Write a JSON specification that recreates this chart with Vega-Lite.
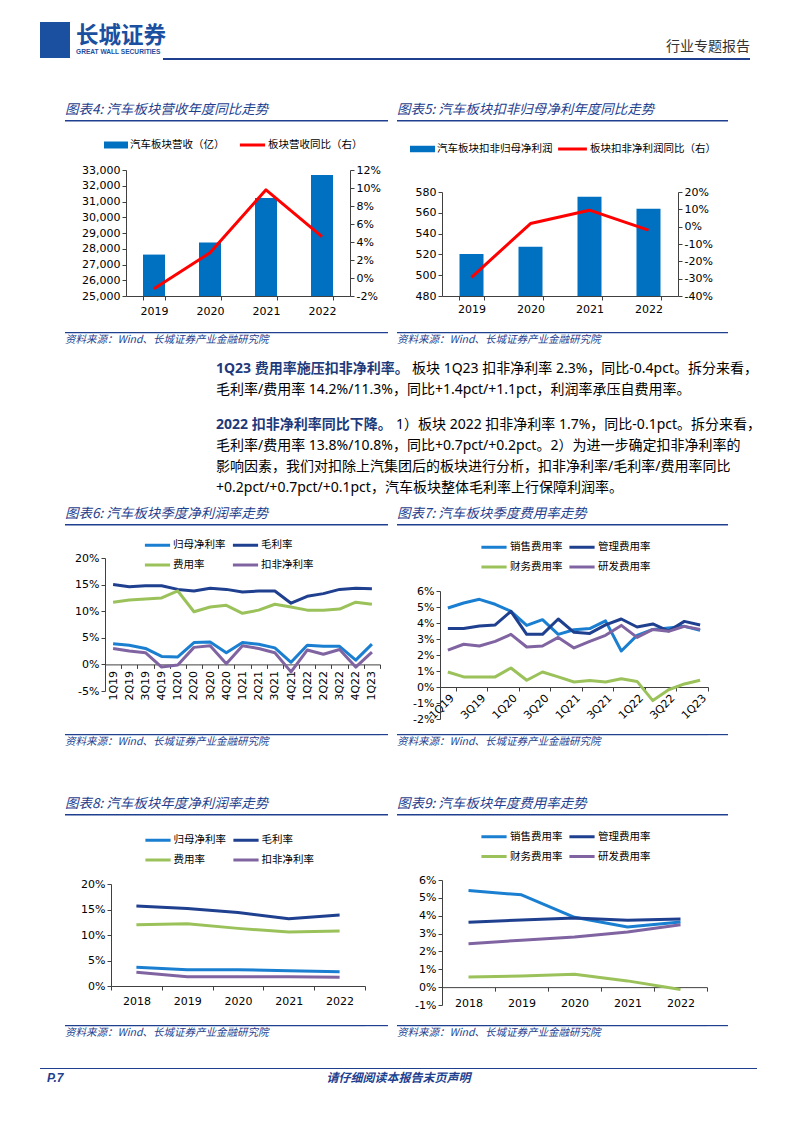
{
"$schema":"https://vega.github.io/schema/vega-lite/v6.json",
"background":"white","padding":0,"spacing":0,"bounds":"full",
"resolve":{"scale":{"color":"independent","fill":"independent","stroke":"independent"}},
"config":{
 "view":{"stroke":null},
 "font":"Noto Sans CJK SC",
 "axis":{"grid":false,"domainColor":"#404040","tickColor":"#404040","labelColor":"#000000","labelFont":"DejaVu Sans","labelFontSize":11,"tickSize":4,"labelPadding":2},
 "legend":{"labelFont":"Noto Sans CJK SC","labelFontSize":10.5,"labelColor":"#000000","padding":0},
 "title":{"anchor":"start","font":"Noto Sans CJK SC","fontSize":13.5,"fontStyle":"italic","fontWeight":"normal","color":"#1f3f8f","offset":4}
},
"datasets":{
 "f4":[{"year":"2019","rev":27630,"yoy":-1.2},{"year":"2020","rev":28390,"yoy":2.8},{"year":"2021","rev":31230,"yoy":9.8},{"year":"2022","rev":32680,"yoy":4.6}],
 "f5":[{"year":"2019","np":520.5,"yoy":-29.2},{"year":"2020","np":527.3,"yoy":1.8},{"year":"2021","np":575.5,"yoy":9.5},{"year":"2022","np":563.9,"yoy":-2.0}],
 "f6":[
  {"q":"1Q19","s":"归母净利率","v":3.9},{"q":"2Q19","s":"归母净利率","v":3.6},{"q":"3Q19","s":"归母净利率","v":3.0},{"q":"4Q19","s":"归母净利率","v":1.5},{"q":"1Q20","s":"归母净利率","v":1.4},{"q":"2Q20","s":"归母净利率","v":4.1},{"q":"3Q20","s":"归母净利率","v":4.2},{"q":"4Q20","s":"归母净利率","v":2.2},{"q":"1Q21","s":"归母净利率","v":4.1},{"q":"2Q21","s":"归母净利率","v":3.8},{"q":"3Q21","s":"归母净利率","v":3.1},{"q":"4Q21","s":"归母净利率","v":0.4},{"q":"1Q22","s":"归母净利率","v":3.6},{"q":"2Q22","s":"归母净利率","v":3.4},{"q":"3Q22","s":"归母净利率","v":3.4},{"q":"4Q22","s":"归母净利率","v":0.8},{"q":"1Q23","s":"归母净利率","v":3.8},
  {"q":"1Q19","s":"毛利率","v":15.0},{"q":"2Q19","s":"毛利率","v":14.6},{"q":"3Q19","s":"毛利率","v":14.8},{"q":"4Q19","s":"毛利率","v":14.8},{"q":"1Q20","s":"毛利率","v":14.1},{"q":"2Q20","s":"毛利率","v":13.8},{"q":"3Q20","s":"毛利率","v":14.3},{"q":"4Q20","s":"毛利率","v":14.1},{"q":"1Q21","s":"毛利率","v":13.6},{"q":"2Q21","s":"毛利率","v":13.8},{"q":"3Q21","s":"毛利率","v":13.8},{"q":"4Q21","s":"毛利率","v":11.5},{"q":"1Q22","s":"毛利率","v":12.8},{"q":"2Q22","s":"毛利率","v":13.3},{"q":"3Q22","s":"毛利率","v":14.1},{"q":"4Q22","s":"毛利率","v":14.3},{"q":"1Q23","s":"毛利率","v":14.2},
  {"q":"1Q19","s":"费用率","v":11.7},{"q":"2Q19","s":"费用率","v":12.1},{"q":"3Q19","s":"费用率","v":12.3},{"q":"4Q19","s":"费用率","v":12.5},{"q":"1Q20","s":"费用率","v":13.8},{"q":"2Q20","s":"费用率","v":9.9},{"q":"3Q20","s":"费用率","v":10.8},{"q":"4Q20","s":"费用率","v":11.1},{"q":"1Q21","s":"费用率","v":9.6},{"q":"2Q21","s":"费用率","v":10.2},{"q":"3Q21","s":"费用率","v":11.3},{"q":"4Q21","s":"费用率","v":10.8},{"q":"1Q22","s":"费用率","v":10.2},{"q":"2Q22","s":"费用率","v":10.2},{"q":"3Q22","s":"费用率","v":10.4},{"q":"4Q22","s":"费用率","v":11.7},{"q":"1Q23","s":"费用率","v":11.3},
  {"q":"1Q19","s":"扣非净利率","v":3.0},{"q":"2Q19","s":"扣非净利率","v":2.5},{"q":"3Q19","s":"扣非净利率","v":2.2},{"q":"4Q19","s":"扣非净利率","v":-0.5},{"q":"1Q20","s":"扣非净利率","v":-0.1},{"q":"2Q20","s":"扣非净利率","v":3.2},{"q":"3Q20","s":"扣非净利率","v":3.5},{"q":"4Q20","s":"扣非净利率","v":0.1},{"q":"1Q21","s":"扣非净利率","v":3.5},{"q":"2Q21","s":"扣非净利率","v":3.0},{"q":"3Q21","s":"扣非净利率","v":2.2},{"q":"4Q21","s":"扣非净利率","v":-1.4},{"q":"1Q22","s":"扣非净利率","v":2.7},{"q":"2Q22","s":"扣非净利率","v":1.9},{"q":"3Q22","s":"扣非净利率","v":2.8},{"q":"4Q22","s":"扣非净利率","v":-0.5},{"q":"1Q23","s":"扣非净利率","v":2.3}],
 "f7":[
  {"q":"1Q19","s":"销售费用率","v":4.94},{"q":"2Q19","s":"销售费用率","v":5.25},{"q":"3Q19","s":"销售费用率","v":5.48},{"q":"4Q19","s":"销售费用率","v":5.17},{"q":"1Q20","s":"销售费用率","v":4.73},{"q":"2Q20","s":"销售费用率","v":3.85},{"q":"3Q20","s":"销售费用率","v":4.21},{"q":"4Q20","s":"销售费用率","v":3.29},{"q":"1Q21","s":"销售费用率","v":3.58},{"q":"2Q21","s":"销售费用率","v":3.65},{"q":"3Q21","s":"销售费用率","v":4.13},{"q":"4Q21","s":"销售费用率","v":2.25},{"q":"1Q22","s":"销售费用率","v":3.23},{"q":"2Q22","s":"销售费用率","v":3.6},{"q":"3Q22","s":"销售费用率","v":3.69},{"q":"4Q22","s":"销售费用率","v":3.79},{"q":"1Q23","s":"销售费用率","v":3.54},
  {"q":"1Q19","s":"管理费用率","v":3.65},{"q":"2Q19","s":"管理费用率","v":3.65},{"q":"3Q19","s":"管理费用率","v":3.81},{"q":"4Q19","s":"管理费用率","v":3.88},{"q":"1Q20","s":"管理费用率","v":4.73},{"q":"2Q20","s":"管理费用率","v":3.29},{"q":"3Q20","s":"管理费用率","v":3.29},{"q":"4Q20","s":"管理费用率","v":4.25},{"q":"1Q21","s":"管理费用率","v":3.42},{"q":"2Q21","s":"管理费用率","v":3.35},{"q":"3Q21","s":"管理费用率","v":3.88},{"q":"4Q21","s":"管理费用率","v":4.25},{"q":"1Q22","s":"管理费用率","v":3.75},{"q":"2Q22","s":"管理费用率","v":3.94},{"q":"3Q22","s":"管理费用率","v":3.5},{"q":"4Q22","s":"管理费用率","v":4.1},{"q":"1Q23","s":"管理费用率","v":3.88},
  {"q":"1Q19","s":"财务费用率","v":0.94},{"q":"2Q19","s":"财务费用率","v":0.63},{"q":"3Q19","s":"财务费用率","v":0.63},{"q":"4Q19","s":"财务费用率","v":0.63},{"q":"1Q20","s":"财务费用率","v":1.19},{"q":"2Q20","s":"财务费用率","v":0.42},{"q":"3Q20","s":"财务费用率","v":0.94},{"q":"4Q20","s":"财务费用率","v":0.63},{"q":"1Q21","s":"财务费用率","v":0.31},{"q":"2Q21","s":"财务费用率","v":0.4},{"q":"3Q21","s":"财务费用率","v":0.31},{"q":"4Q21","s":"财务费用率","v":0.52},{"q":"1Q22","s":"财务费用率","v":0.35},{"q":"2Q22","s":"财务费用率","v":-0.85},{"q":"3Q22","s":"财务费用率","v":-0.17},{"q":"4Q22","s":"财务费用率","v":0.19},{"q":"1Q23","s":"财务费用率","v":0.42},
  {"q":"1Q19","s":"研发费用率","v":2.31},{"q":"2Q19","s":"研发费用率","v":2.67},{"q":"3Q19","s":"研发费用率","v":2.56},{"q":"4Q19","s":"研发费用率","v":2.85},{"q":"1Q20","s":"研发费用率","v":3.29},{"q":"2Q20","s":"研发费用率","v":2.5},{"q":"3Q20","s":"研发费用率","v":2.56},{"q":"4Q20","s":"研发费用率","v":3.1},{"q":"1Q21","s":"研发费用率","v":2.44},{"q":"2Q21","s":"研发费用率","v":2.85},{"q":"3Q21","s":"研发费用率","v":3.23},{"q":"4Q21","s":"研发费用率","v":3.85},{"q":"1Q22","s":"研发费用率","v":3.1},{"q":"2Q22","s":"研发费用率","v":3.6},{"q":"3Q22","s":"研发费用率","v":3.48},{"q":"4Q22","s":"研发费用率","v":3.79},{"q":"1Q23","s":"研发费用率","v":3.6}],
 "f8":[
  {"y":"2018","s":"归母净利率","v":3.7},{"y":"2019","s":"归母净利率","v":3.2},{"y":"2020","s":"归母净利率","v":3.2},{"y":"2021","s":"归母净利率","v":3.0},{"y":"2022","s":"归母净利率","v":2.8},
  {"y":"2018","s":"毛利率","v":15.7},{"y":"2019","s":"毛利率","v":15.2},{"y":"2020","s":"毛利率","v":14.4},{"y":"2021","s":"毛利率","v":13.2},{"y":"2022","s":"毛利率","v":13.9},
  {"y":"2018","s":"费用率","v":12.0},{"y":"2019","s":"费用率","v":12.2},{"y":"2020","s":"费用率","v":11.3},{"y":"2021","s":"费用率","v":10.6},{"y":"2022","s":"费用率","v":10.8},
  {"y":"2018","s":"扣非净利率","v":2.7},{"y":"2019","s":"扣非净利率","v":1.8},{"y":"2020","s":"扣非净利率","v":1.8},{"y":"2021","s":"扣非净利率","v":1.8},{"y":"2022","s":"扣非净利率","v":1.7}],
 "f9":[
  {"y":"2018","s":"销售费用率","v":5.41},{"y":"2019","s":"销售费用率","v":5.17},{"y":"2020","s":"销售费用率","v":3.91},{"y":"2021","s":"销售费用率","v":3.37},{"y":"2022","s":"销售费用率","v":3.65},
  {"y":"2018","s":"管理费用率","v":3.63},{"y":"2019","s":"管理费用率","v":3.76},{"y":"2020","s":"管理费用率","v":3.87},{"y":"2021","s":"管理费用率","v":3.74},{"y":"2022","s":"管理费用率","v":3.81},
  {"y":"2018","s":"财务费用率","v":0.57},{"y":"2019","s":"财务费用率","v":0.63},{"y":"2020","s":"财务费用率","v":0.72},{"y":"2021","s":"财务费用率","v":0.35},{"y":"2022","s":"财务费用率","v":-0.13},
  {"y":"2018","s":"研发费用率","v":2.43},{"y":"2019","s":"研发费用率","v":2.63},{"y":"2020","s":"研发费用率","v":2.81},{"y":"2021","s":"研发费用率","v":3.09},{"y":"2022","s":"研发费用率","v":3.5}],
 "p1a":[{"line":"1","t":"1Q23 费用率施压扣非净利率。"}],
 "p1b":[{"line":"1","t":"板块 1Q23 扣非净利率 2.3%，同比-0.4pct。拆分来看，"}],
 "p1c":[{"line":"2","t":"毛利率/费用率 14.2%/11.3%，同比+1.4pct/+1.1pct，利润率承压自费用率。"}],
 "p2a":[{"line":"1","t":"2022 扣非净利率同比下降。"}],
 "p2b":[{"line":"1","t":"1）板块 2022 扣非净利率 1.7%，同比-0.1pct。拆分来看，"}],
 "p2c":[{"line":"2","t":"毛利率/费用率  13.8%/10.8%，同比+0.7pct/+0.2pct。2）为进一步确定扣非净利率的"},{"line":"3","t":"影响因素，我们对扣除上汽集团后的板块进行分析，扣非净利率/毛利率/费用率同比"},{"line":"4","t":"+0.2pct/+0.7pct/+0.1pct，汽车板块整体毛利率上行保障利润率。"}]
},
"vconcat":[
{"columns":6,"spacing":0,"bounds":"flush","align":"each","concat":[
 {"width":40,"height":22,"data":{"values":[]},"mark":"point"},{"width":30,"height":22,"data":{"values":[]},"mark":"point"},{"width":6,"height":22,"data":{"values":[]},"mark":"point"},{"width":87,"height":22,"data":{"values":[]},"mark":"point"},{"width":587,"height":22,"data":{"values":[]},"mark":"point"},{"width":44,"height":22,"data":{"values":[]},"mark":"point"},
 {"width":40,"height":36,"data":{"values":[]},"mark":"point"},{"width":30,"height":36,"data":{"values":[]},"mark":"point","view":{"fill":"#1b4fa0"}},{"width":1,"height":1,"data":{"values":[]},"mark":"point"},{"width":1,"height":1,"data":{"values":[]},"mark":"point"},{"width":1,"height":1,"data":{"values":[]},"mark":"point"},{"width":1,"height":1,"data":{"values":[]},"mark":"point"},
 {"width":40,"height":2,"data":{"values":[]},"mark":"point"},{"width":1,"height":1,"data":{"values":[]},"mark":"point"},{"width":1,"height":1,"data":{"values":[]},"mark":"point"},
 {"width":87,"height":2,"data":{"values":[]},"mark":"point","title":{"text":"长城证券","subtitle":"GREAT WALL SECURITIES","fontSize":22.5,"fontStyle":"normal","fontWeight":"bold","color":"#1b4fa0","subtitleFont":"Liberation Sans","subtitleFontSize":6.6,"subtitleFontWeight":"bold","subtitleColor":"#1b4fa0","subtitlePadding":1.5,"offset":2}},
 {"width":587,"height":2,"data":{"values":[]},"mark":"point","view":{"fill":"#1f3f8f"},"title":{"text":"行业专题报告","anchor":"end","fontSize":14,"fontStyle":"normal","color":"#333333","offset":4}},
 {"width":1,"height":1,"data":{"values":[]},"mark":"point"},
 {"width":40,"height":2,"data":{"values":[]},"mark":"point"},{"width":1,"height":1,"data":{"values":[]},"mark":"point"},{"width":1,"height":1,"data":{"values":[]},"mark":"point"},{"width":1,"height":1,"data":{"values":[]},"mark":"point"},{"width":1,"height":1,"data":{"values":[]},"mark":"point"},{"width":1,"height":1,"data":{"values":[]},"mark":"point"}
]},
{"hconcat":[
 {"columns":5,"spacing":0,"bounds":"flush","align":"each","resolve":{"scale":{"color":"independent","fill":"independent","stroke":"independent"}},"concat":[
  {"width":65,"height":58,"data":{"values":[]},"mark":"point"},{"width":61,"height":58,"data":{"values":[]},"mark":"point"},{"width":224,"height":58,"data":{"values":[]},"mark":"point"},{"width":38,"height":58,"data":{"values":[]},"mark":"point"},{"width":4,"height":58,"data":{"values":[]},"mark":"point"},
  {"width":65,"height":2,"data":{"values":[]},"mark":"point"},{"width":61,"height":1.5,"data":{"values":[]},"mark":"point","view":{"fill":"#1f3f8f"},"title":{"text":"图表4: 汽车板块营收年度同比走势"}},{"width":224,"height":1.5,"data":{"values":[]},"mark":"point","view":{"fill":"#1f3f8f"}},{"width":38,"height":1.5,"data":{"values":[]},"mark":"point","view":{"fill":"#1f3f8f"}},{"width":1,"height":1,"data":{"values":[]},"mark":"point"},
  {"width":65,"height":48,"data":{"values":[]},"mark":"point"},{"width":1,"height":1,"data":{"values":[]},"mark":"point"},{"width":1,"height":1,"data":{"values":[]},"mark":"point"},{"width":1,"height":1,"data":{"values":[]},"mark":"point"},{"width":1,"height":1,"data":{"values":[]},"mark":"point"},
  {"width":65,"height":126,"data":{"values":[]},"mark":"point"},{"width":1,"height":1,"data":{"values":[]},"mark":"point"},
  {"width":224,"height":126,"data":{"name":"f4"},
   "encoding":{"x":{"field":"year","type":"ordinal","scale":{"paddingInner":0.607,"paddingOuter":0.3035},"axis":{"title":null,"labelAngle":0,"tickBand":"extent","labelPadding":5.5}}},
   "layer":[
    {"mark":{"type":"bar"},"encoding":{
      "y":{"field":"rev","type":"quantitative","scale":{"domain":[25000,33000],"zero":false,"nice":false},"axis":{"title":null,"values":[25000,26000,27000,28000,29000,30000,31000,32000,33000],"labelExpr":"format(datum.value, ',')"}},
      "y2":{"datum":25000},
      "fill":{"datum":"汽车板块营收（亿）","type":"nominal","scale":{"range":["#0070c0"]},"legend":{"title":null,"orient":"none","legendX":-19,"legendY":-34,"symbolType":"M-1.333,-0.389H1.333V0.389H-1.333Z","symbolSize":324,"symbolStrokeWidth":0,"labelOffset":5}}}},
    {"mark":{"type":"line","strokeWidth":3,"strokeJoin":"round"},"encoding":{
      "y":{"field":"yoy","type":"quantitative","scale":{"domain":[-2,12],"zero":false,"nice":false},"axis":{"title":null,"orient":"right","values":[-2,0,2,4,6,8,10,12],"labelExpr":"datum.value + '%'"}},
      "stroke":{"datum":"板块营收同比（右）","type":"nominal","scale":{"range":["#ff0000"]},"legend":{"title":null,"orient":"none","legendX":116,"legendY":-35.5,"symbolType":"M-1.4,0H1.4","symbolSize":324,"symbolStrokeWidth":3,"labelOffset":5}}}}
   ],
   "resolve":{"scale":{"y":"independent"}}},
  {"width":1,"height":1,"data":{"values":[]},"mark":"point"},{"width":1,"height":1,"data":{"values":[]},"mark":"point"},
  {"width":65,"height":36,"data":{"values":[]},"mark":"point"},{"width":1,"height":1,"data":{"values":[]},"mark":"point"},{"width":1,"height":1,"data":{"values":[]},"mark":"point"},{"width":1,"height":1,"data":{"values":[]},"mark":"point"},{"width":1,"height":1,"data":{"values":[]},"mark":"point"},
  {"width":65,"height":2,"data":{"values":[]},"mark":"point"},{"width":61,"height":1.2,"data":{"values":[]},"mark":"point","view":{"fill":"#1f3f8f"},"title":{"text":"资料来源：Wind、长城证券产业金融研究院","orient":"bottom","fontSize":10.5,"offset":2}},{"width":224,"height":1.2,"data":{"values":[]},"mark":"point","view":{"fill":"#1f3f8f"}},{"width":38,"height":1.2,"data":{"values":[]},"mark":"point","view":{"fill":"#1f3f8f"}},{"width":1,"height":1,"data":{"values":[]},"mark":"point"},
  {"width":65,"height":16,"data":{"values":[]},"mark":"point"},{"width":1,"height":1,"data":{"values":[]},"mark":"point"},{"width":1,"height":1,"data":{"values":[]},"mark":"point"},{"width":1,"height":1,"data":{"values":[]},"mark":"point"},{"width":1,"height":1,"data":{"values":[]},"mark":"point"}
 ]},
 {"columns":5,"spacing":0,"bounds":"flush","align":"each","resolve":{"scale":{"color":"independent","fill":"independent","stroke":"independent"}},"concat":[
  {"width":5,"height":58,"data":{"values":[]},"mark":"point"},{"width":45,"height":58,"data":{"values":[]},"mark":"point"},{"width":236,"height":58,"data":{"values":[]},"mark":"point"},{"width":50,"height":58,"data":{"values":[]},"mark":"point"},{"width":66,"height":58,"data":{"values":[]},"mark":"point"},
  {"width":5,"height":2,"data":{"values":[]},"mark":"point"},{"width":45,"height":1.5,"data":{"values":[]},"mark":"point","view":{"fill":"#1f3f8f"},"title":{"text":"图表5: 汽车板块扣非归母净利年度同比走势"}},{"width":236,"height":1.5,"data":{"values":[]},"mark":"point","view":{"fill":"#1f3f8f"}},{"width":50,"height":1.5,"data":{"values":[]},"mark":"point","view":{"fill":"#1f3f8f"}},{"width":1,"height":1,"data":{"values":[]},"mark":"point"},
  {"width":5,"height":70,"data":{"values":[]},"mark":"point"},{"width":1,"height":1,"data":{"values":[]},"mark":"point"},{"width":1,"height":1,"data":{"values":[]},"mark":"point"},{"width":1,"height":1,"data":{"values":[]},"mark":"point"},{"width":1,"height":1,"data":{"values":[]},"mark":"point"},
  {"width":5,"height":104,"data":{"values":[]},"mark":"point"},{"width":1,"height":1,"data":{"values":[]},"mark":"point"},
  {"width":236,"height":104,"data":{"name":"f5"},
   "encoding":{"x":{"field":"year","type":"ordinal","scale":{"paddingInner":0.593,"paddingOuter":0.2966},"axis":{"title":null,"labelAngle":0,"tickBand":"extent","labelPadding":3}}},
   "layer":[
    {"mark":{"type":"bar"},"encoding":{
      "y":{"field":"np","type":"quantitative","scale":{"domain":[480,580],"zero":false,"nice":false},"axis":{"title":null,"values":[480,500,520,540,560,580]}},
      "y2":{"datum":480},
      "fill":{"datum":"汽车板块扣非归母净利润","type":"nominal","scale":{"range":["#0070c0"]},"legend":{"title":null,"orient":"none","legendX":-28.5,"legendY":-52,"symbolType":"M-1.39,-0.36H1.39V0.36H-1.39Z","symbolSize":324,"symbolStrokeWidth":0,"labelOffset":5.5}}}},
    {"mark":{"type":"line","strokeWidth":3,"strokeJoin":"round"},"encoding":{
      "y":{"field":"yoy","type":"quantitative","scale":{"domain":[-40,20],"zero":false,"nice":false},"axis":{"title":null,"orient":"right","values":[-40,-30,-20,-10,0,10,20],"labelExpr":"datum.value + '%'"}},
      "stroke":{"datum":"板块扣非净利润同比（右）","type":"nominal","scale":{"range":["#ff0000"]},"legend":{"title":null,"orient":"none","legendX":120,"legendY":-53.5,"symbolType":"M-1.6,0H1.6","symbolSize":324,"symbolStrokeWidth":3,"labelOffset":7}}}}
   ],
   "resolve":{"scale":{"y":"independent"}}},
  {"width":1,"height":1,"data":{"values":[]},"mark":"point"},{"width":1,"height":1,"data":{"values":[]},"mark":"point"},
  {"width":5,"height":36,"data":{"values":[]},"mark":"point"},{"width":1,"height":1,"data":{"values":[]},"mark":"point"},{"width":1,"height":1,"data":{"values":[]},"mark":"point"},{"width":1,"height":1,"data":{"values":[]},"mark":"point"},{"width":1,"height":1,"data":{"values":[]},"mark":"point"},
  {"width":5,"height":2,"data":{"values":[]},"mark":"point"},{"width":45,"height":1.2,"data":{"values":[]},"mark":"point","view":{"fill":"#1f3f8f"},"title":{"text":"资料来源：Wind、长城证券产业金融研究院","orient":"bottom","fontSize":10.5,"offset":2}},{"width":236,"height":1.2,"data":{"values":[]},"mark":"point","view":{"fill":"#1f3f8f"}},{"width":50,"height":1.2,"data":{"values":[]},"mark":"point","view":{"fill":"#1f3f8f"}},{"width":1,"height":1,"data":{"values":[]},"mark":"point"},
  {"width":5,"height":16,"data":{"values":[]},"mark":"point"},{"width":1,"height":1,"data":{"values":[]},"mark":"point"},{"width":1,"height":1,"data":{"values":[]},"mark":"point"},{"width":1,"height":1,"data":{"values":[]},"mark":"point"},{"width":1,"height":1,"data":{"values":[]},"mark":"point"}
 ]}
],"spacing":0,"bounds":"full","resolve":{"scale":{"color":"independent","fill":"independent","stroke":"independent"}}},
{"columns":3,"spacing":0,"bounds":"flush","align":"each","concat":[
 {"width":216,"height":8,"data":{"values":[]},"mark":"point"},{"width":545,"height":8,"data":{"values":[]},"mark":"point"},{"width":33,"height":8,"data":{"values":[]},"mark":"point"},
 {"width":216,"height":42,"data":{"values":[]},"mark":"point"},
 {"width":545,"height":42,
  "encoding":{"y":{"field":"line","type":"ordinal","scale":{"domain":["1","2"]},"axis":null},"x":{"datum":0,"type":"quantitative","scale":{"domain":[0,1]},"axis":null},"text":{"field":"t"}},
  "layer":[
   {"data":{"name":"p1a"},"mark":{"type":"text","align":"left","baseline":"middle","font":"Noto Sans, Noto Sans CJK SC","fontSize":14,"fontWeight":"bold","color":"#1f3a7a"}},
   {"data":{"name":"p1b"},"mark":{"type":"text","align":"left","baseline":"middle","font":"Noto Sans, Noto Sans CJK SC","fontSize":14,"color":"#000000","dx":196}},
   {"data":{"name":"p1c"},"mark":{"type":"text","align":"left","baseline":"middle","font":"Noto Sans, Noto Sans CJK SC","fontSize":14,"color":"#000000"}}
  ]},
 {"width":1,"height":1,"data":{"values":[]},"mark":"point"},
 {"width":216,"height":15,"data":{"values":[]},"mark":"point"},{"width":1,"height":1,"data":{"values":[]},"mark":"point"},{"width":1,"height":1,"data":{"values":[]},"mark":"point"},
 {"width":216,"height":83,"data":{"values":[]},"mark":"point"},
 {"width":545,"height":83,
  "encoding":{"y":{"field":"line","type":"ordinal","scale":{"domain":["1","2","3","4"]},"axis":null},"x":{"datum":0,"type":"quantitative","scale":{"domain":[0,1]},"axis":null},"text":{"field":"t"}},
  "layer":[
   {"data":{"name":"p2a"},"mark":{"type":"text","align":"left","baseline":"middle","font":"Noto Sans, Noto Sans CJK SC","fontSize":14,"fontWeight":"bold","color":"#1f3a7a"}},
   {"data":{"name":"p2b"},"mark":{"type":"text","align":"left","baseline":"middle","font":"Noto Sans, Noto Sans CJK SC","fontSize":14,"color":"#000000","dx":180}},
   {"data":{"name":"p2c"},"mark":{"type":"text","align":"left","baseline":"middle","font":"Noto Sans, Noto Sans CJK SC","fontSize":14,"color":"#000000"}}
  ]},
 {"width":1,"height":1,"data":{"values":[]},"mark":"point"},
 {"width":216,"height":2,"data":{"values":[]},"mark":"point"},{"width":1,"height":1,"data":{"values":[]},"mark":"point"},{"width":1,"height":1,"data":{"values":[]},"mark":"point"}
]},
{"hconcat":[
 {"columns":5,"spacing":0,"bounds":"flush","align":"each","resolve":{"scale":{"color":"independent","fill":"independent","stroke":"independent"}},"concat":[
  {"width":65,"height":24,"data":{"values":[]},"mark":"point"},{"width":40,"height":24,"data":{"values":[]},"mark":"point"},{"width":275,"height":24,"data":{"values":[]},"mark":"point"},{"width":8,"height":24,"data":{"values":[]},"mark":"point"},{"width":4,"height":24,"data":{"values":[]},"mark":"point"},
  {"width":65,"height":2,"data":{"values":[]},"mark":"point"},{"width":40,"height":1.5,"data":{"values":[]},"mark":"point","view":{"fill":"#1f3f8f"},"title":{"text":"图表6: 汽车板块季度净利润率走势"}},{"width":275,"height":1.5,"data":{"values":[]},"mark":"point","view":{"fill":"#1f3f8f"}},{"width":8,"height":1.5,"data":{"values":[]},"mark":"point","view":{"fill":"#1f3f8f"}},{"width":1,"height":1,"data":{"values":[]},"mark":"point"},
  {"width":65,"height":32,"data":{"values":[]},"mark":"point"},{"width":1,"height":1,"data":{"values":[]},"mark":"point"},{"width":1,"height":1,"data":{"values":[]},"mark":"point"},{"width":1,"height":1,"data":{"values":[]},"mark":"point"},{"width":1,"height":1,"data":{"values":[]},"mark":"point"},
  {"width":65,"height":133,"data":{"values":[]},"mark":"point"},{"width":1,"height":1,"data":{"values":[]},"mark":"point"},
  {"width":275,"height":133,"data":{"name":"f6"},
   "mark":{"type":"line","strokeWidth":3,"strokeJoin":"round"},
   "encoding":{
    "x":{"field":"q","type":"ordinal","scale":{"type":"band","paddingInner":0,"paddingOuter":0,"domain":["1Q19","2Q19","3Q19","4Q19","1Q20","2Q20","3Q20","4Q20","1Q21","2Q21","3Q21","4Q21","1Q22","2Q22","3Q22","4Q22","1Q23"]},"axis":{"title":null,"labelAngle":270,"offset":-26.6,"tickBand":"extent","labelPadding":2}},
    "y":{"field":"v","type":"quantitative","scale":{"domain":[-5,20],"zero":false,"nice":false},"axis":{"title":null,"values":[-5,0,5,10,15,20],"labelExpr":"datum.value + '%'"}},
    "color":{"field":"s","type":"nominal","scale":{"domain":["归母净利率","毛利率","费用率","扣非净利率"],"range":["#1a7fd0","#1f3f8f","#9bc25a","#8064a2"]},"legend":{"title":null,"orient":"none","direction":"horizontal","legendX":42,"legendY":-23.5,"columns":2,"symbolType":"M-1.4,0H1.4","symbolSize":324,"symbolStrokeWidth":3,"labelOffset":5,"columnPadding":0,"rowPadding":3}}}},
  {"width":1,"height":1,"data":{"values":[]},"mark":"point"},{"width":1,"height":1,"data":{"values":[]},"mark":"point"},
  {"width":65,"height":43,"data":{"values":[]},"mark":"point"},{"width":1,"height":1,"data":{"values":[]},"mark":"point"},{"width":1,"height":1,"data":{"values":[]},"mark":"point"},{"width":1,"height":1,"data":{"values":[]},"mark":"point"},{"width":1,"height":1,"data":{"values":[]},"mark":"point"},
  {"width":65,"height":2,"data":{"values":[]},"mark":"point"},{"width":40,"height":1.2,"data":{"values":[]},"mark":"point","view":{"fill":"#1f3f8f"},"title":{"text":"资料来源：Wind、长城证券产业金融研究院","orient":"bottom","fontSize":10.5,"offset":2}},{"width":275,"height":1.2,"data":{"values":[]},"mark":"point","view":{"fill":"#1f3f8f"}},{"width":8,"height":1.2,"data":{"values":[]},"mark":"point","view":{"fill":"#1f3f8f"}},{"width":1,"height":1,"data":{"values":[]},"mark":"point"},
  {"width":65,"height":19,"data":{"values":[]},"mark":"point"},{"width":1,"height":1,"data":{"values":[]},"mark":"point"},{"width":1,"height":1,"data":{"values":[]},"mark":"point"},{"width":1,"height":1,"data":{"values":[]},"mark":"point"},{"width":1,"height":1,"data":{"values":[]},"mark":"point"}
 ]},
 {"columns":5,"spacing":0,"bounds":"flush","align":"each","resolve":{"scale":{"color":"independent","fill":"independent","stroke":"independent"}},"concat":[
  {"width":5,"height":24,"data":{"values":[]},"mark":"point"},{"width":43,"height":24,"data":{"values":[]},"mark":"point"},{"width":268,"height":24,"data":{"values":[]},"mark":"point"},{"width":20,"height":24,"data":{"values":[]},"mark":"point"},{"width":66,"height":24,"data":{"values":[]},"mark":"point"},
  {"width":5,"height":2,"data":{"values":[]},"mark":"point"},{"width":43,"height":1.5,"data":{"values":[]},"mark":"point","view":{"fill":"#1f3f8f"},"title":{"text":"图表7: 汽车板块季度费用率走势"}},{"width":268,"height":1.5,"data":{"values":[]},"mark":"point","view":{"fill":"#1f3f8f"}},{"width":20,"height":1.5,"data":{"values":[]},"mark":"point","view":{"fill":"#1f3f8f"}},{"width":1,"height":1,"data":{"values":[]},"mark":"point"},
  {"width":5,"height":65,"data":{"values":[]},"mark":"point"},{"width":1,"height":1,"data":{"values":[]},"mark":"point"},{"width":1,"height":1,"data":{"values":[]},"mark":"point"},{"width":1,"height":1,"data":{"values":[]},"mark":"point"},{"width":1,"height":1,"data":{"values":[]},"mark":"point"},
  {"width":5,"height":128,"data":{"values":[]},"mark":"point"},{"width":1,"height":1,"data":{"values":[]},"mark":"point"},
  {"width":268,"height":128,"data":{"name":"f7"},
   "mark":{"type":"line","strokeWidth":3,"strokeJoin":"round"},
   "encoding":{
    "x":{"field":"q","type":"ordinal","scale":{"type":"band","paddingInner":0,"paddingOuter":0,"domain":["1Q19","2Q19","3Q19","4Q19","1Q20","2Q20","3Q20","4Q20","1Q21","2Q21","3Q21","4Q21","1Q22","2Q22","3Q22","4Q22","1Q23"]},"axis":{"title":null,"labelAngle":315,"offset":-32,"tickBand":"extent","labelPadding":1,"values":["1Q19","3Q19","1Q20","3Q20","1Q21","3Q21","1Q22","3Q22","1Q23"]}},
    "y":{"field":"v","type":"quantitative","scale":{"domain":[-2,6],"zero":false,"nice":false},"axis":{"title":null,"values":[-2,-1,0,1,2,3,4,5,6],"labelExpr":"datum.value + '%'"}},
    "color":{"field":"s","type":"nominal","scale":{"domain":["销售费用率","管理费用率","财务费用率","研发费用率"],"range":["#1a7fd0","#1f3f8f","#9bc25a","#8064a2"]},"legend":{"title":null,"orient":"none","direction":"horizontal","legendX":43.5,"legendY":-54.5,"columns":2,"symbolType":"M-1.4,0H1.4","symbolSize":324,"symbolStrokeWidth":3,"labelOffset":5.5,"columnPadding":0,"rowPadding":3}}}},
  {"width":1,"height":1,"data":{"values":[]},"mark":"point"},{"width":1,"height":1,"data":{"values":[]},"mark":"point"},
  {"width":5,"height":15,"data":{"values":[]},"mark":"point"},{"width":1,"height":1,"data":{"values":[]},"mark":"point"},{"width":1,"height":1,"data":{"values":[]},"mark":"point"},{"width":1,"height":1,"data":{"values":[]},"mark":"point"},{"width":1,"height":1,"data":{"values":[]},"mark":"point"},
  {"width":5,"height":2,"data":{"values":[]},"mark":"point"},{"width":43,"height":1.2,"data":{"values":[]},"mark":"point","view":{"fill":"#1f3f8f"},"title":{"text":"资料来源：Wind、长城证券产业金融研究院","orient":"bottom","fontSize":10.5,"offset":2}},{"width":268,"height":1.2,"data":{"values":[]},"mark":"point","view":{"fill":"#1f3f8f"}},{"width":20,"height":1.2,"data":{"values":[]},"mark":"point","view":{"fill":"#1f3f8f"}},{"width":1,"height":1,"data":{"values":[]},"mark":"point"},
  {"width":5,"height":19,"data":{"values":[]},"mark":"point"},{"width":1,"height":1,"data":{"values":[]},"mark":"point"},{"width":1,"height":1,"data":{"values":[]},"mark":"point"},{"width":1,"height":1,"data":{"values":[]},"mark":"point"},{"width":1,"height":1,"data":{"values":[]},"mark":"point"}
 ]}
],"spacing":0,"bounds":"full","resolve":{"scale":{"color":"independent","fill":"independent","stroke":"independent"}}},
{"hconcat":[
 {"columns":5,"spacing":0,"bounds":"flush","align":"each","resolve":{"scale":{"color":"independent","fill":"independent","stroke":"independent"}},"concat":[
  {"width":65,"height":59,"data":{"values":[]},"mark":"point"},{"width":46,"height":59,"data":{"values":[]},"mark":"point"},{"width":254,"height":59,"data":{"values":[]},"mark":"point"},{"width":23,"height":59,"data":{"values":[]},"mark":"point"},{"width":4,"height":59,"data":{"values":[]},"mark":"point"},
  {"width":65,"height":2,"data":{"values":[]},"mark":"point"},{"width":46,"height":1.5,"data":{"values":[]},"mark":"point","view":{"fill":"#1f3f8f"},"title":{"text":"图表8: 汽车板块年度净利润率走势"}},{"width":254,"height":1.5,"data":{"values":[]},"mark":"point","view":{"fill":"#1f3f8f"}},{"width":23,"height":1.5,"data":{"values":[]},"mark":"point","view":{"fill":"#1f3f8f"}},{"width":1,"height":1,"data":{"values":[]},"mark":"point"},
  {"width":65,"height":68,"data":{"values":[]},"mark":"point"},{"width":1,"height":1,"data":{"values":[]},"mark":"point"},{"width":1,"height":1,"data":{"values":[]},"mark":"point"},{"width":1,"height":1,"data":{"values":[]},"mark":"point"},{"width":1,"height":1,"data":{"values":[]},"mark":"point"},
  {"width":65,"height":102,"data":{"values":[]},"mark":"point"},{"width":1,"height":1,"data":{"values":[]},"mark":"point"},
  {"width":254,"height":102,"data":{"name":"f8"},
   "mark":{"type":"line","strokeWidth":3,"strokeJoin":"round"},
   "encoding":{
    "x":{"field":"y","type":"ordinal","scale":{"type":"band","paddingInner":0,"paddingOuter":0,"domain":["2018","2019","2020","2021","2022"]},"axis":{"title":null,"labelAngle":0,"tickBand":"extent","labelPadding":5}},
    "y":{"field":"v","type":"quantitative","scale":{"domain":[0,20],"nice":false},"axis":{"title":null,"values":[0,5,10,15,20],"labelExpr":"datum.value + '%'"}},
    "color":{"field":"s","type":"nominal","scale":{"domain":["归母净利率","毛利率","费用率","扣非净利率"],"range":["#1a7fd0","#1f3f8f","#9bc25a","#8064a2"]},"legend":{"title":null,"orient":"none","direction":"horizontal","legendX":36.5,"legendY":-54.5,"columns":2,"symbolType":"M-1.4,0H1.4","symbolSize":324,"symbolStrokeWidth":3,"labelOffset":5,"columnPadding":0,"rowPadding":3}}}},
  {"width":1,"height":1,"data":{"values":[]},"mark":"point"},{"width":1,"height":1,"data":{"values":[]},"mark":"point"},
  {"width":65,"height":39,"data":{"values":[]},"mark":"point"},{"width":1,"height":1,"data":{"values":[]},"mark":"point"},{"width":1,"height":1,"data":{"values":[]},"mark":"point"},{"width":1,"height":1,"data":{"values":[]},"mark":"point"},{"width":1,"height":1,"data":{"values":[]},"mark":"point"},
  {"width":65,"height":2,"data":{"values":[]},"mark":"point"},{"width":46,"height":1.2,"data":{"values":[]},"mark":"point","view":{"fill":"#1f3f8f"},"title":{"text":"资料来源：Wind、长城证券产业金融研究院","orient":"bottom","fontSize":10.5,"offset":2}},{"width":254,"height":1.2,"data":{"values":[]},"mark":"point","view":{"fill":"#1f3f8f"}},{"width":23,"height":1.2,"data":{"values":[]},"mark":"point","view":{"fill":"#1f3f8f"}},{"width":1,"height":1,"data":{"values":[]},"mark":"point"},
  {"width":65,"height":23,"data":{"values":[]},"mark":"point"},{"width":1,"height":1,"data":{"values":[]},"mark":"point"},{"width":1,"height":1,"data":{"values":[]},"mark":"point"},{"width":1,"height":1,"data":{"values":[]},"mark":"point"},{"width":1,"height":1,"data":{"values":[]},"mark":"point"}
 ]},
 {"columns":5,"spacing":0,"bounds":"flush","align":"each","resolve":{"scale":{"color":"independent","fill":"independent","stroke":"independent"}},"concat":[
  {"width":5,"height":59,"data":{"values":[]},"mark":"point"},{"width":45,"height":59,"data":{"values":[]},"mark":"point"},{"width":265,"height":59,"data":{"values":[]},"mark":"point"},{"width":21,"height":59,"data":{"values":[]},"mark":"point"},{"width":66,"height":59,"data":{"values":[]},"mark":"point"},
  {"width":5,"height":2,"data":{"values":[]},"mark":"point"},{"width":45,"height":1.5,"data":{"values":[]},"mark":"point","view":{"fill":"#1f3f8f"},"title":{"text":"图表9: 汽车板块年度费用率走势"}},{"width":265,"height":1.5,"data":{"values":[]},"mark":"point","view":{"fill":"#1f3f8f"}},{"width":21,"height":1.5,"data":{"values":[]},"mark":"point","view":{"fill":"#1f3f8f"}},{"width":1,"height":1,"data":{"values":[]},"mark":"point"},
  {"width":5,"height":64,"data":{"values":[]},"mark":"point"},{"width":1,"height":1,"data":{"values":[]},"mark":"point"},{"width":1,"height":1,"data":{"values":[]},"mark":"point"},{"width":1,"height":1,"data":{"values":[]},"mark":"point"},{"width":1,"height":1,"data":{"values":[]},"mark":"point"},
  {"width":5,"height":125,"data":{"values":[]},"mark":"point"},{"width":1,"height":1,"data":{"values":[]},"mark":"point"},
  {"width":265,"height":125,"data":{"name":"f9"},
   "mark":{"type":"line","strokeWidth":3,"strokeJoin":"round"},
   "encoding":{
    "x":{"field":"y","type":"ordinal","scale":{"type":"band","paddingInner":0,"paddingOuter":0,"domain":["2018","2019","2020","2021","2022"]},"axis":{"title":null,"labelAngle":0,"offset":-17.86,"tickBand":"extent","labelPadding":6}},
    "y":{"field":"v","type":"quantitative","scale":{"domain":[-1,6],"zero":false,"nice":false},"axis":{"title":null,"values":[-1,0,1,2,3,4,5,6],"labelExpr":"datum.value + '%'"}},
    "color":{"field":"s","type":"nominal","scale":{"domain":["销售费用率","管理费用率","财务费用率","研发费用率"],"range":["#1a7fd0","#1f3f8f","#9bc25a","#8064a2"]},"legend":{"title":null,"orient":"none","direction":"horizontal","legendX":41.5,"legendY":-54,"columns":2,"symbolType":"M-1.4,0H1.4","symbolSize":324,"symbolStrokeWidth":3,"labelOffset":5.5,"columnPadding":0,"rowPadding":3}}}},
  {"width":1,"height":1,"data":{"values":[]},"mark":"point"},{"width":1,"height":1,"data":{"values":[]},"mark":"point"},
  {"width":5,"height":20,"data":{"values":[]},"mark":"point"},{"width":1,"height":1,"data":{"values":[]},"mark":"point"},{"width":1,"height":1,"data":{"values":[]},"mark":"point"},{"width":1,"height":1,"data":{"values":[]},"mark":"point"},{"width":1,"height":1,"data":{"values":[]},"mark":"point"},
  {"width":5,"height":2,"data":{"values":[]},"mark":"point"},{"width":45,"height":1.2,"data":{"values":[]},"mark":"point","view":{"fill":"#1f3f8f"},"title":{"text":"资料来源：Wind、长城证券产业金融研究院","orient":"bottom","fontSize":10.5,"offset":2}},{"width":265,"height":1.2,"data":{"values":[]},"mark":"point","view":{"fill":"#1f3f8f"}},{"width":21,"height":1.2,"data":{"values":[]},"mark":"point","view":{"fill":"#1f3f8f"}},{"width":1,"height":1,"data":{"values":[]},"mark":"point"},
  {"width":5,"height":23,"data":{"values":[]},"mark":"point"},{"width":1,"height":1,"data":{"values":[]},"mark":"point"},{"width":1,"height":1,"data":{"values":[]},"mark":"point"},{"width":1,"height":1,"data":{"values":[]},"mark":"point"},{"width":1,"height":1,"data":{"values":[]},"mark":"point"}
 ]}
],"spacing":0,"bounds":"full","resolve":{"scale":{"color":"independent","fill":"independent","stroke":"independent"}}},
{"columns":7,"spacing":0,"bounds":"flush","align":"each","concat":[
 {"width":40,"height":18,"data":{"values":[]},"mark":"point"},{"width":7,"height":18,"data":{"values":[]},"mark":"point"},{"width":60,"height":18,"data":{"values":[]},"mark":"point"},{"width":218,"height":18,"data":{"values":[]},"mark":"point"},{"width":147,"height":18,"data":{"values":[]},"mark":"point"},{"width":285,"height":18,"data":{"values":[]},"mark":"point"},{"width":37,"height":18,"data":{"values":[]},"mark":"point"},
 {"width":40,"height":1,"data":{"values":[]},"mark":"point"},{"width":7,"height":1,"data":{"values":[]},"mark":"point","view":{"fill":"#1f3f8f"}},{"width":60,"height":1,"data":{"values":[]},"mark":"point","view":{"fill":"#1f3f8f"}},{"width":218,"height":1,"data":{"values":[]},"mark":"point","view":{"fill":"#1f3f8f"}},{"width":147,"height":1,"data":{"values":[]},"mark":"point","view":{"fill":"#1f3f8f"}},{"width":285,"height":1,"data":{"values":[]},"mark":"point","view":{"fill":"#1f3f8f"}},{"width":1,"height":1,"data":{"values":[]},"mark":"point"},
 {"width":40,"height":18,"data":{"values":[]},"mark":"point"},{"width":1,"height":1,"data":{"values":[]},"mark":"point"},{"width":1,"height":1,"data":{"values":[]},"mark":"point"},{"width":1,"height":1,"data":{"values":[]},"mark":"point"},{"width":1,"height":1,"data":{"values":[]},"mark":"point"},{"width":1,"height":1,"data":{"values":[]},"mark":"point"},{"width":1,"height":1,"data":{"values":[]},"mark":"point"},
 {"width":40,"height":1,"data":{"values":[]},"mark":"point"},{"width":1,"height":1,"data":{"values":[]},"mark":"point"},
 {"width":60,"height":1,"data":{"values":[]},"mark":"point","title":{"text":"P.7","font":"Liberation Sans","fontSize":12,"fontWeight":"bold","fontStyle":"italic","color":"#1f3f8f","offset":2}},
 {"width":1,"height":1,"data":{"values":[]},"mark":"point"},
 {"width":147,"height":1,"data":{"values":[]},"mark":"point","title":{"text":"请仔细阅读本报告末页声明","anchor":"middle","fontSize":12,"fontWeight":"bold","fontStyle":"italic","color":"#1f3f8f","offset":2}},
 {"width":1,"height":1,"data":{"values":[]},"mark":"point"},{"width":1,"height":1,"data":{"values":[]},"mark":"point"},
 {"width":40,"height":35,"data":{"values":[]},"mark":"point"},{"width":1,"height":1,"data":{"values":[]},"mark":"point"},{"width":1,"height":1,"data":{"values":[]},"mark":"point"},{"width":1,"height":1,"data":{"values":[]},"mark":"point"},{"width":1,"height":1,"data":{"values":[]},"mark":"point"},{"width":1,"height":1,"data":{"values":[]},"mark":"point"},{"width":1,"height":1,"data":{"values":[]},"mark":"point"}
]}
]
}
